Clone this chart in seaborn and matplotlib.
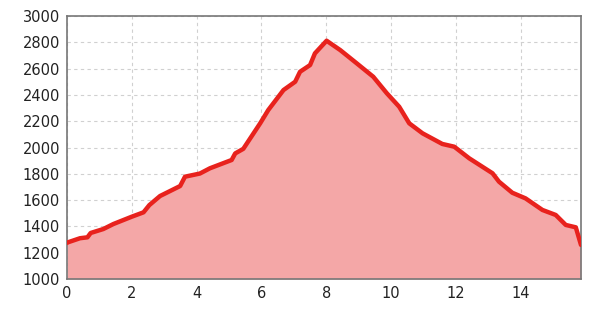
import matplotlib
matplotlib.use("Agg")
import matplotlib.pyplot as plt
import seaborn as sns
import pandas as pd

# distance (km) and elevation (m)
distance = [0.0, 0.04, 0.40, 0.63, 0.73, 1.12, 1.43, 2.0, 2.36, 2.54, 2.87, 3.49,
            3.64, 4.1, 4.41, 5.08, 5.19, 5.44, 5.96, 6.21, 6.68, 7.04, 7.19, 7.5,
            7.65, 8.01, 8.43, 8.94, 9.45, 9.87, 10.25, 10.56, 10.97, 11.58, 11.95,
            12.41, 13.13, 13.33, 13.74, 14.15, 14.67, 15.08, 15.39, 15.7, 15.86]
elevation = [1275, 1280, 1310, 1317, 1350, 1380, 1418, 1474, 1507, 1562, 1631, 1707,
             1778, 1802, 1842, 1905, 1955, 1990, 2184, 2285, 2437, 2500, 2576, 2627,
             2716, 2812, 2741, 2640, 2538, 2412, 2310, 2184, 2108, 2027, 2006,
             1918, 1804, 1740, 1656, 1613, 1525, 1487, 1411, 1393, 1259]
x_ticks = [0, 2, 4, 6, 8, 10, 12, 14]
y_ticks = [1000, 1200, 1400, 1600, 1800, 2000, 2200, 2400, 2600, 2800, 3000]

df = pd.DataFrame({'distance': distance, 'elevation': elevation})

sns.set_style("white")
plt.rcParams['font.family'] = ['DejaVu Sans']

fig = plt.figure(figsize=(5.89, 3.09), dpi=100)
ax = fig.add_axes([0.1138, 0.0971, 0.8726, 0.8511])

ax.fill_between(df['distance'], df['elevation'], 1000, color='#f4a7a7', zorder=2, linewidth=0)
sns.lineplot(data=df, x='distance', y='elevation', ax=ax, color='#e8221d',
             linewidth=3.2, zorder=3, solid_joinstyle='round', solid_capstyle='round')

ax.set_xlim(0, 15.86)
ax.set_ylim(1000, 3000)
ax.set_xticks(x_ticks)
ax.set_yticks(y_ticks)
ax.set_xlabel('')
ax.set_ylabel('')
ax.grid(True, linestyle=(0, (3, 3)), color='#d0d0d0', linewidth=0.8, zorder=1)
ax.set_axisbelow(True)
for s in ax.spines.values():
    s.set_color('#777777')
    s.set_linewidth(1.2)
ax.tick_params(axis='both', length=3, width=0.8, color='#999999',
               labelsize=10.5, labelcolor='#222222', pad=2)

fig.savefig('out.png', dpi=100)
